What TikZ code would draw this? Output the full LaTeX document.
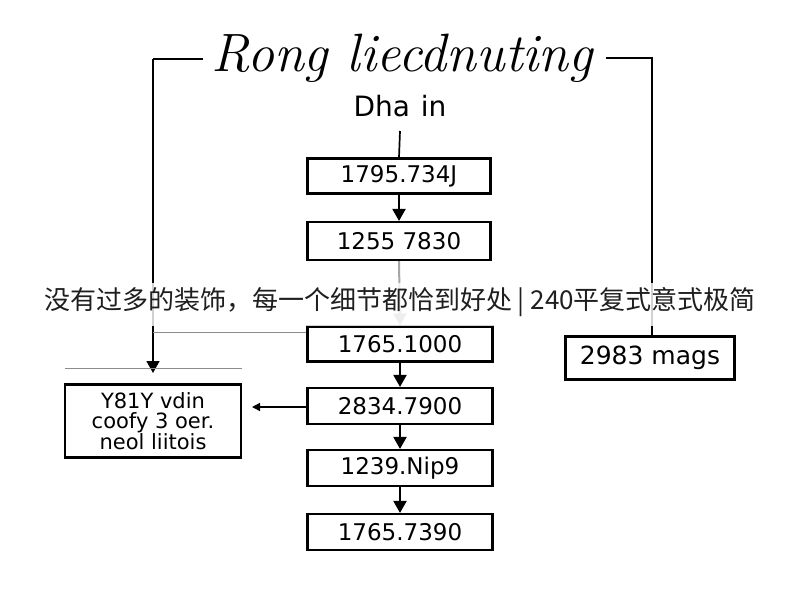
\documentclass[tikz,border=0pt]{standalone}
\usepackage{fontspec}
\usetikzlibrary{arrows.meta}
\newfontfamily\sansf{DejaVu Sans}
\newfontfamily\cjkf{Noto Sans CJK SC}
\begin{document}
\begin{tikzpicture}[x=1pt,y=-1pt,
  box/.style={draw, line width=2.1pt, minimum width=183pt, minimum height=36pt, inner sep=0pt,
    font=\sansf\fontsize{23}{25}\selectfont},
  arr/.style={-{Triangle[length=12pt,width=13pt]}, line width=2pt},
  thinline/.style={line width=0.7pt, black!45},
  frame/.style={line width=1.7pt}]
\useasboundingbox (0,0) rectangle (800,600);
\fill[white] (0,0) rectangle (800,600);
% title and bracket
\node (title) at (402,58) {\fontsize{54}{60}\selectfont\itshape Rong liecdnuting};
\coordinate (tl) at (203,59);
\coordinate (tlc) at (153,59);
\coordinate (tld) at (153,373);
\coordinate (tr) at (606,58);
\coordinate (trc) at (652,58);
\node (dha) at (400,106) {\sansf\fontsize{28}{30}\selectfont Dha\hspace{2pt} in};
\coordinate (dtop) at (400,131);
% main boxes
\node[box, minimum height=35pt] (b1) at (399,176) {1795.734J};
\node[box, minimum height=38pt] (b2) at (399,241) {1255 7830};
\node[box, minimum height=35pt, minimum width=185pt] (b3) at (400,344) {1765.1000};
\node[box, minimum height=36pt, minimum width=185pt] (b4) at (400,406) {2834.7900};
\node[box, minimum height=36pt, minimum width=185pt] (b5) at (400,468) {1239.Nip9};
\node[box, minimum height=36pt, minimum width=185pt] (b6) at (400,532) {1765.7390};
% side boxes
\node[box, minimum width=176pt, minimum height=73pt, align=center,
  font=\sansf\fontsize{21}{20.5}\selectfont] (lb) at (153,421) {Y81Y vdin\\coofy 3 oer.\\neol liitois};
\node[box, minimum width=169pt, minimum height=43pt, font=\sansf\fontsize{25}{27}\selectfont] (rb) at (650,358) {2983 mags};
% connectors
\draw[frame] (tl) -- (tlc);
\draw[arr, line width=1.7pt] (tlc) -- (tld);
\draw[frame] (tr) -- (trc) -- (trc |- rb.north);
\draw[frame] (dtop) -- (b1.north);
\draw[arr] (b1.south) -- (b2.north);
\draw[arr, black!35] (b2.south) -- (b3.north);
\draw[arr] (b3.south) -- (b4.north);
\draw[arr] (b4.south) -- (b5.north);
\draw[arr] (b5.south) -- (b6.north);
\coordinate (lbend) at (252,407);
\draw[-{Triangle[length=8pt,width=8pt]}, line width=1.3pt] (b4.west |- lbend) -- (lbend);
\coordinate (hl1) at (153,332);
\draw[thinline] (hl1) -- (b3.west |- hl1);
\coordinate (hl2a) at (65,368);
\coordinate (hl2b) at (242,368);
\draw[thinline] (hl2a) -- (hl2b);
% overlay banner
\fill[white, opacity=0.82] (0,283) rectangle (800,326);
\node[text=black!88, font=\cjkf\fontsize{26}{30}\selectfont] (banner) at (400,302)
  {没有过多的装饰，每一个细节都恰到好处 | 240平复式意式极简};
\end{tikzpicture}
\end{document}
